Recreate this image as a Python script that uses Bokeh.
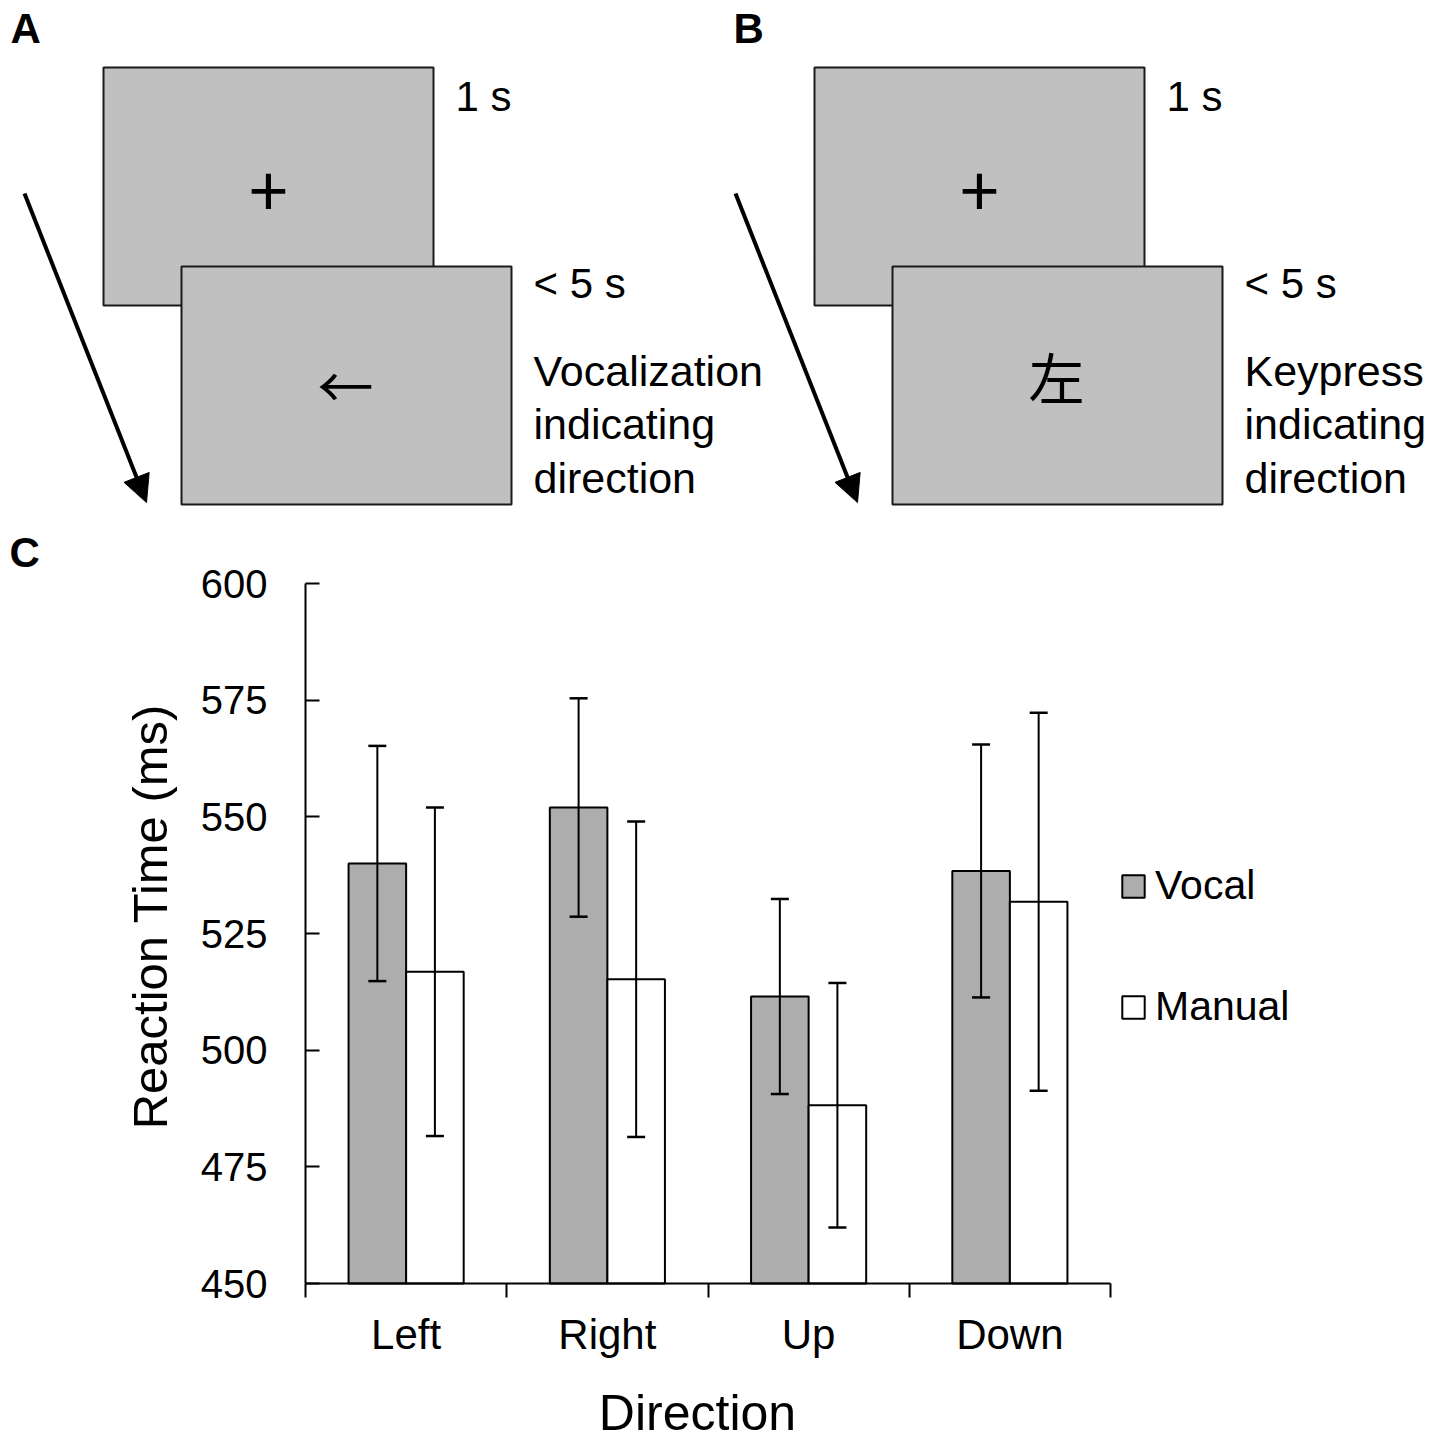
import numpy as np
from math import pi
from bokeh.plotting import figure
from bokeh.models import (Range1d, FixedTicker, LinearAxis, ColumnDataSource, Whisker, TeeHead,
                          Legend, LegendItem, Label, Arrow, NormalHead)
from bokeh.embed import file_html
from bokeh.resources import INLINE
from bokeh.core.properties import value

# ---------------- data ----------------
directions = ["Left", "Right", "Up", "Down"]
series_names = ["Vocal", "Manual"]
vocal_mean = [540.0, 552.0, 511.5, 538.4]
vocal_err = [25.2, 23.4, 20.9, 27.1]
manual_mean = [516.8, 515.2, 488.2, 531.8]
manual_err = [35.2, 33.8, 26.2, 40.5]
y_ticks = [450, 475, 500, 525, 550, 575, 600]
y_min, y_max = 450, 600
x_title = "Direction"
y_title = "Reaction Time (ms)"

# diagram texts
panel_letters = ["A", "B", "C"]
timing_labels = ["1 s", "< 5 s"]
fixation = "+"
stimuli = ["\u2190", "\u5de6"]
responses = [["Vocalization", "indicating", "direction"],
             ["Keypress", "indicating", "direction"]]

FONT = "Liberation Sans"
CJK = "Noto Sans CJK JP"

# ---------------- canvas / layout geometry (pixels) ----------------
W, H = 1433, 1439
AX_L, AX_R, AX_T, AX_B = 305, 1110, 583, 1283   # chart area inside the canvas
n = len(directions)
px_per_x = (AX_R - AX_L) / n
px_per_y = (AX_B - AX_T) / (y_max - y_min)
SHIFT = 0.4  # rendered alphabetic baseline sits ~0.4em lower; compensate


def bl(y, size):
    return y - SHIFT * size


x_range = Range1d(-AX_L / px_per_x, (W - AX_L) / px_per_x)
y_range = Range1d(y_min - (H - AX_B) / px_per_y, y_max + AX_T / px_per_y)

p = figure(width=W, height=H, x_range=x_range, y_range=y_range,
           output_backend="svg", toolbar_location=None, min_border=0,
           x_axis_location=None, y_axis_location=None)
p.grid.visible = False
p.outline_line_color = None
p.extra_x_ranges = {"px": Range1d(0, W)}
p.extra_y_ranges = {"px": Range1d(H, 0)}
PX = dict(x_range_name="px", y_range_name="px")

# ---------------- top: task diagrams ----------------
for k, dx in enumerate([0, 711]):
    p.quad(left=[103 + dx], right=[433 + dx], top=[67], bottom=[305],
           fill_color="#c0c0c0", line_color="#1a1a1a", line_width=2, **PX)
    p.quad(left=[181 + dx], right=[511 + dx], top=[266], bottom=[504],
           fill_color="#c0c0c0", line_color="#1a1a1a", line_width=2, **PX)
    p.add_layout(Arrow(x_start=24 + dx, y_start=193, x_end=146 + dx, y_end=502,
                       line_width=4, line_color="black",
                       end=NormalHead(size=27, fill_color="black", line_color="black", line_width=1),
                       **PX))
    p.text(x=[268 + dx], y=[191], text=[fixation], text_font=value(CJK),
           text_font_size="70px", text_align="center", text_baseline="middle",
           text_color="black", **PX)
    p.text(x=[345 + dx], y=[383 if k == 0 else 375], text=[stimuli[k]], text_font=value(CJK),
           text_font_size="56px", text_align="center", text_baseline="middle",
           text_color="black", **PX)
    p.text(x=[455 + dx], y=[bl(113, 42)], text=[timing_labels[0]], text_font=value(FONT),
           text_font_size="42px", text_align="left", text_baseline="alphabetic", **PX)
    p.text(x=[533 + dx], y=[bl(300, 42)], text=[timing_labels[1]], text_font=value(FONT),
           text_font_size="42px", text_align="left", text_baseline="alphabetic", **PX)
    p.text(x=[533 + dx] * 3, y=[bl(v, 43) for v in (388, 441, 495)], text=responses[k],
           text_font=value(FONT), text_font_size="43px", text_align="left",
           text_baseline="alphabetic", **PX)
    p.text(x=[10 + dx + (12 if k == 1 else 0)], y=[bl(45, 42)], text=[panel_letters[k]],
           text_font=value(FONT), text_font_size="42px", text_font_style="bold",
           text_align="left", text_baseline="alphabetic", **PX)

p.text(x=[9], y=[bl(569, 42)], text=[panel_letters[2]], text_font=value(FONT), text_font_size="42px",
       text_font_style="bold", text_align="left", text_baseline="alphabetic", **PX)

# ---------------- bottom: bar chart ----------------
centers = np.arange(n) + 0.5
bw = 0.286

src = ColumnDataSource(dict(
    x_v=centers - bw / 2, x_m=centers + bw / 2,
    vocal=vocal_mean, manual=manual_mean,
    v_up=np.array(vocal_mean) + np.array(vocal_err), v_lo=np.array(vocal_mean) - np.array(vocal_err),
    m_up=np.array(manual_mean) + np.array(manual_err), m_lo=np.array(manual_mean) - np.array(manual_err),
))

rv = p.vbar(x="x_v", top="vocal", bottom=y_min, width=bw, source=src,
            fill_color="#adadad", line_color="black", line_width=2)
rm = p.vbar(x="x_m", top="manual", bottom=y_min, width=bw, source=src,
            fill_color="white", line_color="black", line_width=2)

for base, up, lo in [("x_v", "v_up", "v_lo"), ("x_m", "m_up", "m_lo")]:
    p.add_layout(Whisker(base=base, upper=up, lower=lo, source=src, level="overlay",
                         line_width=2, line_color="black",
                         upper_head=TeeHead(size=18, line_width=2.5, line_color="black"),
                         lower_head=TeeHead(size=18, line_width=2.5, line_color="black")))

xaxis = LinearAxis(fixed_location=y_min, bounds=(0, n),
                   ticker=FixedTicker(ticks=list(centers), minor_ticks=list(range(n + 1))),
                   major_label_overrides={float(c): d for c, d in zip(centers, directions)},
                   major_tick_in=0, major_tick_out=0, minor_tick_in=0, minor_tick_out=14,
                   minor_tick_line_color="black", minor_tick_line_width=2,
                   axis_line_color="black", axis_line_width=2,
                   major_label_standoff=13, major_label_text_font=FONT,
                   major_label_text_font_size="42px", major_label_text_color="black")
p.add_layout(xaxis, "below")

yaxis = LinearAxis(fixed_location=0, bounds=(y_min, y_max),
                   ticker=FixedTicker(ticks=y_ticks, minor_ticks=[]),
                   major_tick_in=14, major_tick_out=0, major_tick_line_color="black",
                   major_tick_line_width=2, axis_line_color="black", axis_line_width=2,
                   major_label_standoff=38, major_label_text_font=FONT,
                   major_label_text_font_size="40px", major_label_text_color="black")
p.add_layout(yaxis, "left")

p.add_layout(Label(x=bl(169, 49), y=916, text=y_title, angle=pi / 2, text_align="center",
                   text_baseline="alphabetic", text_font=FONT, text_font_size="49px",
                   text_color="black", **PX))
p.add_layout(Label(x=697, y=bl(1432, 50), text=x_title, text_align="center",
                   text_baseline="alphabetic", text_font=FONT, text_font_size="50px",
                   text_color="black", **PX))

legend = Legend(items=[LegendItem(label=series_names[0], renderers=[rv]),
                       LegendItem(label=series_names[1], renderers=[rm])],
                location=(1119, H - 1030), orientation="vertical",
                glyph_width=28, glyph_height=28, label_height=22, label_standoff=8, spacing=74,
                label_text_font=FONT, label_text_font_size="41px", label_text_color="black",
                margin=0, padding=0, border_line_color=None, background_fill_alpha=0)
p.add_layout(legend)

open("out.html", "w").write(file_html(p, INLINE))
